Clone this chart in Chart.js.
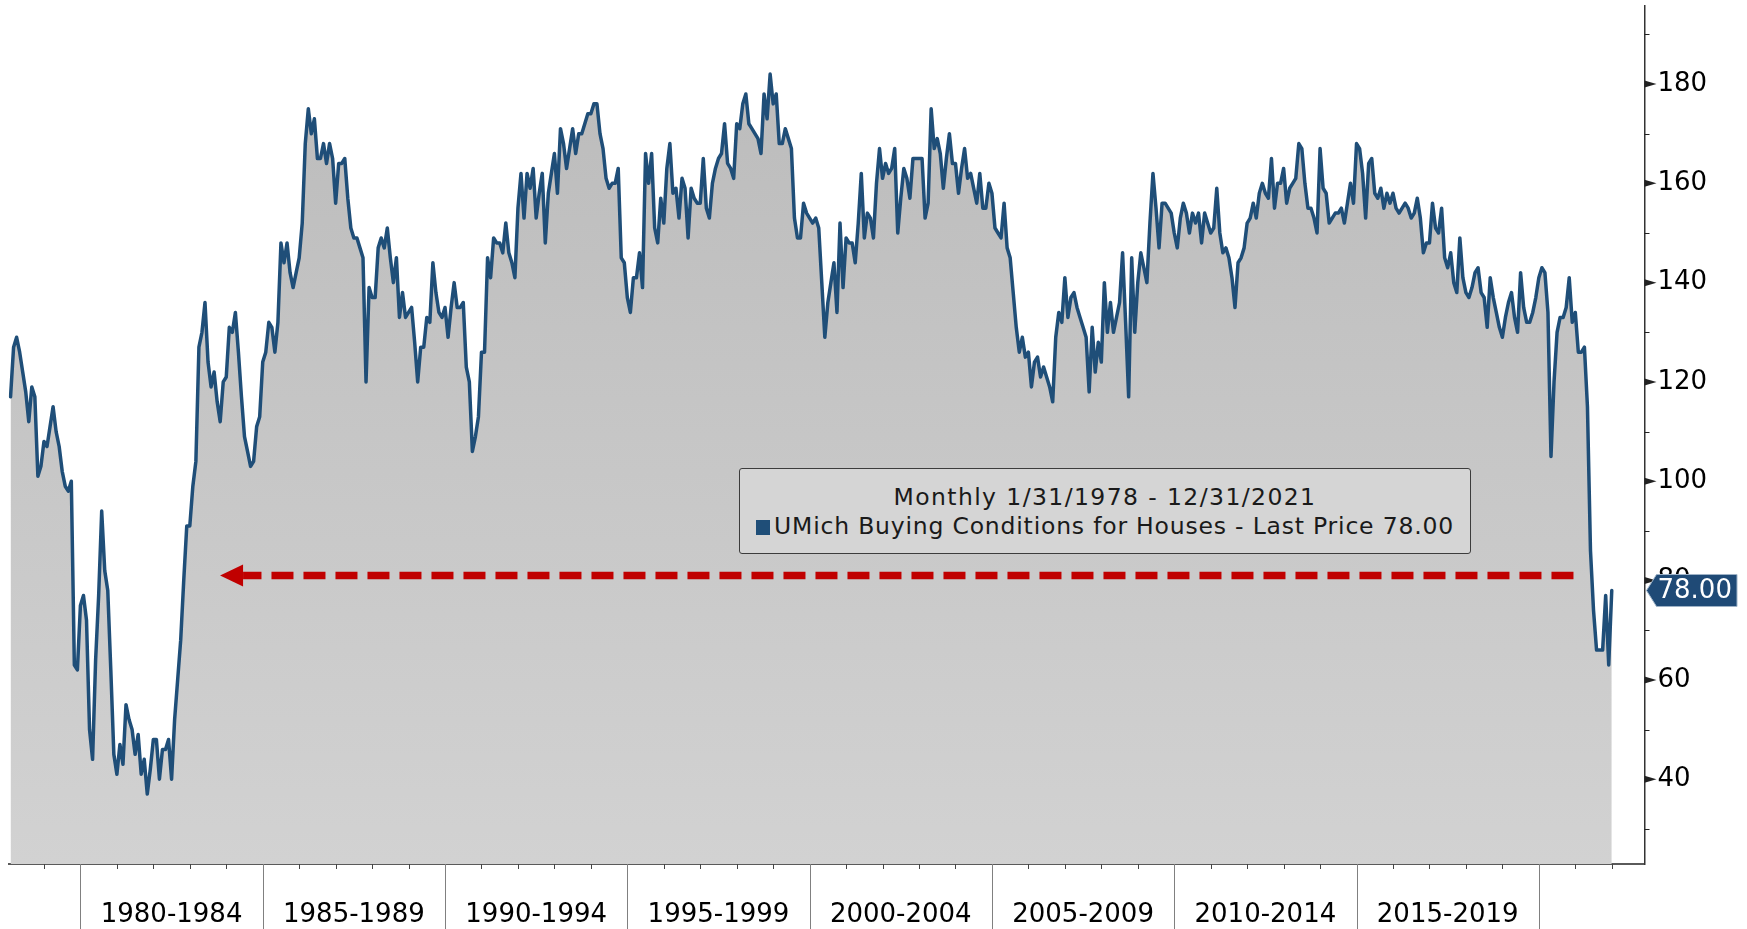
<!DOCTYPE html>
<html>
<head>
<meta charset="utf-8">
<title>UMich Buying Conditions for Houses</title>
<script src="https://cdn.jsdelivr.net/npm/chart.js@4.4.0/dist/chart.umd.min.js"></script>
<style>
  html, body { margin: 0; padding: 0; background: #fff; }
  #wrap { position: relative; width: 1747px; height: 929px; }
  #legend-box {
    position: absolute; left: 739px; top: 468px; width: 732px; height: 86px;
    box-sizing: border-box; border: 1.5px solid #3c3c3c; border-radius: 3px;
    background: #d5d5d5; font-family: 'DejaVu Sans', sans-serif; font-size: 23.5px;
    color: #1a1a1a; text-align: center; letter-spacing: 0.8px; padding-top: 14px; line-height: 29px;
  }
  #legend-period { letter-spacing: 1.4px; }
  #legend-box .swatch {
    display: inline-block; width: 14px; height: 15px; background: #1f4e78;
    margin-right: 4px; vertical-align: -1px;
  }
</style>
</head>
<body>
<div id="wrap">
  <canvas id="umich-houses" width="1747" height="929"></canvas>
  <div id="legend-box">
    <div id="legend-period"></div>
    <div><span class="swatch"></span><span id="legend-series"></span></div>
  </div>
</div>
<script>
// monthly values, Jan 1978 .. Dec 2021 (one row per year)
const startYear = 1978;
const buyingConditions = [
  117,127,129,126,122,118,112,119,117,101,103,108, // 1978
  107,111,115,110,107,102, 99, 98,100, 63, 62, 75, // 1979
   77, 72, 50, 44, 64, 77, 94, 82, 78, 62, 45, 41, // 1980
   47, 43, 55, 52, 50, 45, 49, 41, 44, 37, 42, 48, // 1981
   48, 40, 46, 46, 48, 40, 52, 60, 68, 80, 91, 91, // 1982
   99,104,127,130,136,124,119,122,116,112,120,121, // 1983
  131,130,134,126,117,109,106,103,104,111,113,124, // 1984
  126,132,131,126,132,148,144,148,142,139,142,145, // 1985
  152,168,175,170,173,165,165,168,164,168,165,156, // 1986
  164,164,165,157,151,149,149,147,145,120,139,137, // 1987
  137,147,149,147,151,145,140,145,133,138,133,134, // 1988
  135,128,120,127,127,133,132,144,138,134,133,135, // 1989
  129,135,140,135,135,136,123,120,106,109,113,126, // 1990
  126,145,141,149,148,148,146,152,146,144,141,155, // 1991
  162,153,162,159,163,153,158,162,148,158,162,166, // 1992
  158,171,168,163,167,171,166,170,170,172,174,174, // 1993
  176,176,170,167,161,159,160,160,163,145,144,137, // 1994
  134,141,141,146,139,166,160,166,151,148,157,152, // 1995
  163,168,158,159,153,161,159,149,159,157,156,156, // 1996
  165,155,153,160,163,165,166,172,164,163,161,172, // 1997
  171,176,178,172,171,170,169,166,178,173,182,176, // 1998
  178,168,168,171,169,167,153,149,149,156,154,153, // 1999
  152,153,151,140,129,136,140,144,134,152,139,149, // 2000
  148,148,144,152,162,149,154,153,149,160,167,161, // 2001
  164,162,163,167,150,157,163,161,157,165,165,165, // 2002
  165,153,156,175,167,169,166,159,165,170,164,164, // 2003
  158,163,167,161,162,159,156,162,155,155,160,158, // 2004
  151,150,149,156,147,145,138,131,126,129,125,126, // 2005
  119,124,125,121,123,121,119,116,129,134,132,141, // 2006
  133,137,138,135,133,131,129,118,131,122,128,124, // 2007
  140,130,136,130,133,136,146,132,117,145,130,140, // 2008
  146,143,140,152,162,155,147,156,156,155,154,150, // 2009
  147,153,156,154,150,154,152,154,148,154,152,150, // 2010
  151,159,150,146,147,145,141,135,144,145,147,152, // 2011
  153,156,153,158,160,158,157,165,155,160,160,163, // 2012
  156,159,160,161,168,167,160,155,155,153,150,167, // 2013
  159,158,152,153,154,154,155,152,156,160,156,168, // 2014
  167,162,153,164,165,158,157,159,155,158,156,158, // 2015
  155,154,155,156,155,153,154,157,153,146,148,148, // 2016
  156,151,150,155,145,143,146,140,138,149,141,138, // 2017
  137,139,142,143,138,137,131,141,137,134,131,129, // 2018
  133,136,138,133,130,142,135,132,132,134,137,141, // 2019
  143,142,134,105,120,130,133,133,135,141,132,134, // 2020
  126,126,127,115, 86, 74, 66, 66, 66, 77, 63, 78  // 2021
];

const periodText = 'Monthly 1/31/1978 - 12/31/2021';
const seriesName = 'UMich Buying Conditions for Houses';
const groupStarts = [1980, 1985, 1990, 1995, 2000, 2005, 2010, 2015, 2020];
const groupLabels = ['1980-1984', '1985-1989', '1990-1994', '1995-1999', '2000-2004', '2005-2009', '2010-2014', '2015-2019'];
const yearTicks = Array.from({ length: 44 }, (_, k) => 1979 + k);
const yTicks = [30, 40, 50, 60, 70, 80, 90, 100, 110, 120, 130, 140, 150, 160, 170, 180, 190];
const yLabels = [40, 60, 80, 100, 120, 140, 160, 180];
const arrowLevel = 81;
const arrowFrom = 2020.95;
const arrowTo = 1983.83;

const points = buyingConditions.map((v, i) => ({ x: startYear + (i + 1) / 12, y: v }));
const lastValue = buyingConditions[buyingConditions.length - 1];

document.getElementById('legend-period').textContent = periodText;
document.getElementById('legend-series').textContent = seriesName + ' - Last Price ' + lastValue.toFixed(2);

const lineColor = '#1f4e78';

const decorations = {
  id: 'decorations',
  afterDatasetsDraw(chart) {
    const { ctx, scales: { x, y } } = chart;
    // red dashed arrow pointing back to the early 80s
    const yp = y.getPixelForValue(arrowLevel);
    const x0 = x.getPixelForValue(arrowFrom);
    const tip = x.getPixelForValue(arrowTo);
    const head = 23;
    ctx.save();
    ctx.strokeStyle = '#c00000';
    ctx.lineWidth = 7.5;
    ctx.setLineDash([22, 10]);
    ctx.beginPath();
    ctx.moveTo(x0, yp);
    ctx.lineTo(tip + head, yp);
    ctx.stroke();
    ctx.setLineDash([]);
    ctx.fillStyle = '#c00000';
    ctx.beginPath();
    ctx.moveTo(tip, yp);
    ctx.lineTo(tip + head, yp - 11);
    ctx.lineTo(tip + head, yp + 11);
    ctx.closePath();
    ctx.fill();
    ctx.restore();
  },
  afterDraw(chart) {
    const { ctx, chartArea, scales: { x, y } } = chart;
    const bottom = chartArea.bottom;
    ctx.save();
    // yearly ticks
    ctx.strokeStyle = '#444';
    ctx.lineWidth = 1;
    yearTicks.forEach(yr => {
      const px = Math.round(x.getPixelForValue(yr)) + 0.5;
      ctx.beginPath();
      ctx.moveTo(px, bottom);
      ctx.lineTo(px, bottom + 5);
      ctx.stroke();
    });
    // five-year separators
    ctx.strokeStyle = '#808080';
    groupStarts.forEach(yr => {
      const px = Math.round(x.getPixelForValue(yr)) + 0.5;
      ctx.beginPath();
      ctx.moveTo(px, bottom);
      ctx.lineTo(px, chart.height);
      ctx.stroke();
    });
    // group labels
    ctx.fillStyle = '#000';
    ctx.font = '26px "DejaVu Sans"';
    ctx.textAlign = 'center';
    ctx.textBaseline = 'middle';
    groupLabels.forEach((lab, k) => {
      const mid = (x.getPixelForValue(groupStarts[k]) + x.getPixelForValue(groupStarts[k + 1])) / 2;
      ctx.fillText(lab, mid, bottom + 51);
    });
    // right axis tick marks
    ctx.fillStyle = '#222';
    ctx.strokeStyle = '#222';
    yTicks.forEach(v => {
      const py = y.getPixelForValue(v);
      if (yLabels.includes(v)) {
        ctx.beginPath();
        ctx.moveTo(y.left, py - 3.5);
        ctx.lineTo(y.left + 12, py);
        ctx.lineTo(y.left, py + 3.5);
        ctx.closePath();
        ctx.fill();
      } else {
        ctx.beginPath();
        ctx.moveTo(y.left, Math.round(py) + 0.5);
        ctx.lineTo(y.left + 5, Math.round(py) + 0.5);
        ctx.stroke();
      }
    });
    // last price tag
    const ly = y.getPixelForValue(lastValue);
    const tipX = y.left + 2;
    const right = y.right - 10;
    ctx.fillStyle = '#1f4a76';
    ctx.strokeStyle = '#9fb4c8';
    ctx.lineWidth = 1;
    ctx.beginPath();
    ctx.moveTo(tipX, ly);
    ctx.lineTo(tipX + 10, ly - 16);
    ctx.lineTo(right, ly - 16);
    ctx.lineTo(right, ly + 16);
    ctx.lineTo(tipX + 10, ly + 16);
    ctx.closePath();
    ctx.fill();
    ctx.stroke();
    ctx.fillStyle = '#fff';
    ctx.font = '26px "DejaVu Sans"';
    ctx.textAlign = 'left';
    ctx.fillText(lastValue.toFixed(2), tipX + 11, ly + 1);
    ctx.restore();
  }
};

const ctx = document.getElementById('umich-houses').getContext('2d');
new Chart(ctx, {
  type: 'line',
  data: {
    datasets: [{
      label: seriesName,
      data: points,
      borderColor: lineColor,
      borderWidth: 3.5,
      borderJoinStyle: 'round',
      borderCapStyle: 'round',
      pointRadius: 0,
      tension: 0,
      fill: 'start',
      backgroundColor: (context) => {
        const { ctx, chartArea } = context.chart;
        if (!chartArea) return '#c8c8c8';
        const g = ctx.createLinearGradient(0, chartArea.top, 0, chartArea.bottom);
        g.addColorStop(0, '#bababa');
        g.addColorStop(1, '#d2d2d2');
        return g;
      }
    }]
  },
  options: {
    responsive: false,
    animation: false,
    devicePixelRatio: 1,
    layout: { padding: { left: 8.6, top: 6, right: 0, bottom: 0 } },
    plugins: {
      legend: { display: false },
      tooltip: { enabled: false }
    },
    scales: {
      x: {
        type: 'linear',
        min: 1978.03,
        max: 2022.898,
        grid: { display: false, drawTicks: false },
        border: { display: true, color: '#5a5a5a', width: 2 },
        ticks: { display: false },
        afterFit: (scale) => {
          scale.height = 65;
          scale.paddingLeft = 0;
          scale.paddingRight = 0;
        }
      },
      y: {
        position: 'right',
        min: 22.92,
        max: 195.71,
        grid: { display: false, drawTicks: false },
        border: { display: true, color: '#333', width: 1.5 },
        afterBuildTicks: (axis) => { axis.ticks = yTicks.map(v => ({ value: v })); },
        ticks: {
          padding: 13,
          color: '#000',
          font: { family: 'DejaVu Sans', size: 26 },
          callback: (v) => yLabels.includes(v) ? String(v) : ''
        },
        afterFit: (scale) => {
          scale.width = 102.5;
          scale.paddingTop = 0;
          scale.paddingBottom = 0;
        }
      }
    }
  },
  plugins: [decorations]
});
</script>
</body>
</html>
